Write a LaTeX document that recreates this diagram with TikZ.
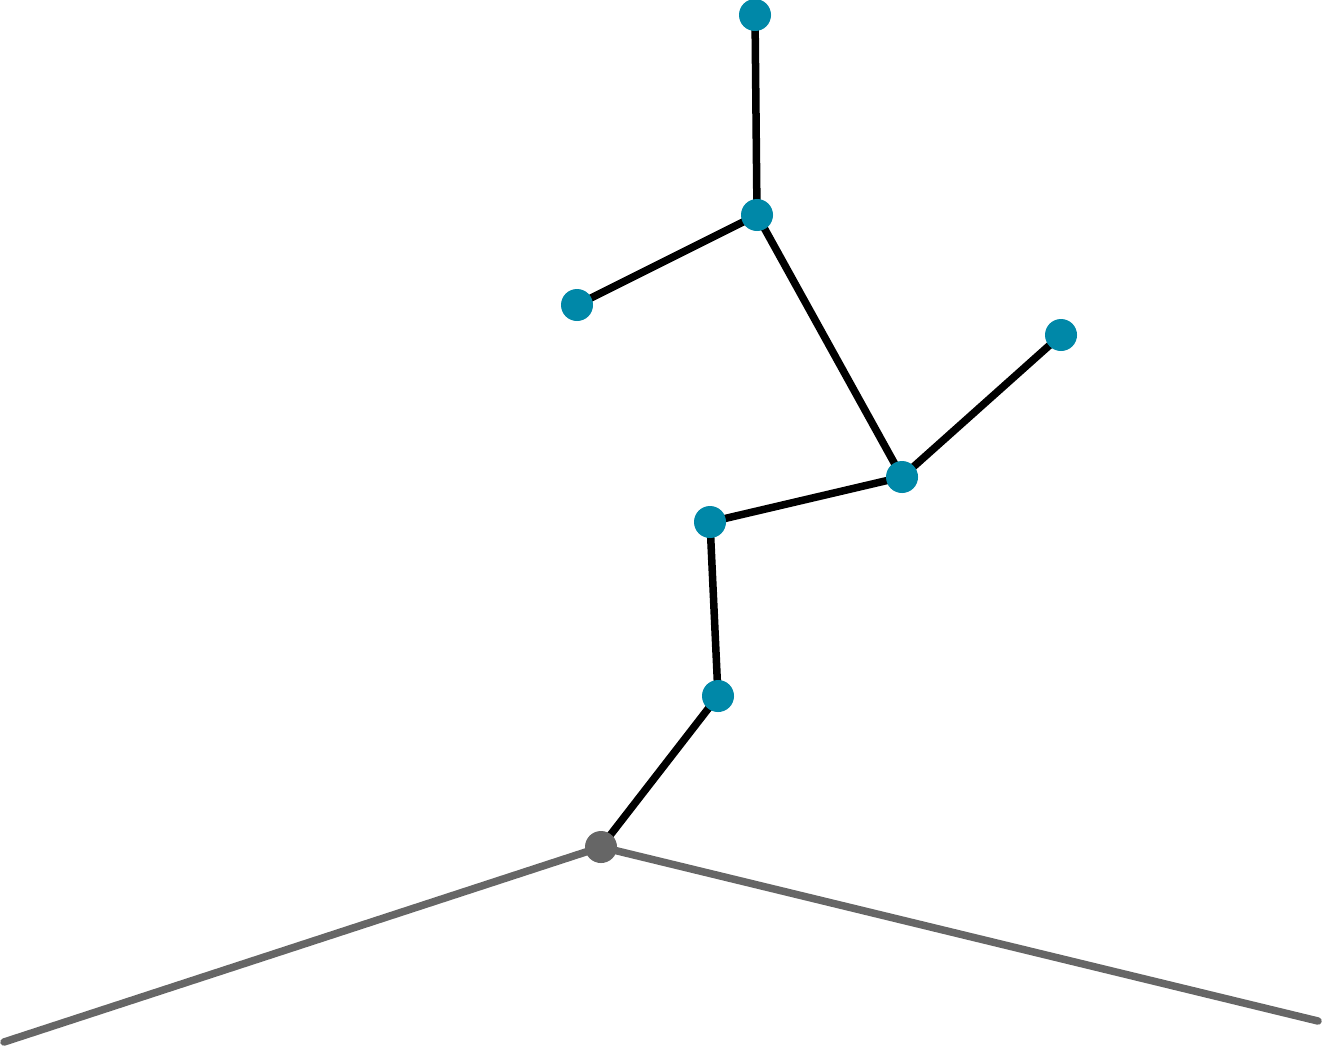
\documentclass[tikz,border=0pt]{standalone}
\pgfdeclarelayer{bg}
\pgfsetlayers{bg,main}
\begin{document}
\begin{tikzpicture}[x=0.01cm,y=-0.01cm,
  dot/.style={circle,fill=tealc,inner sep=0pt,minimum size=0.32cm},
  gdot/.style={circle,fill=grayc,inner sep=0pt,minimum size=0.32cm},
  edge/.style={line width=0.075cm,black,line cap=round},
  gedge/.style={line width=0.075cm,grayc,line cap=round}]
\definecolor{tealc}{HTML}{0088A8}
\definecolor{grayc}{HTML}{666666}
\useasboundingbox (0,0) rectangle (1322,1048);
\coordinate (L) at (4,1042);
\coordinate (R) at (1318,1021);
\node[dot] (A) at (755,15) {};
\node[dot] (B) at (757,215) {};
\node[dot] (C) at (577,305) {};
\node[dot] (D) at (1061,335) {};
\node[dot] (E) at (902,477) {};
\node[dot] (F) at (710,522) {};
\node[dot] (G) at (718,696) {};
\node[gdot] (H) at (601,847) {};
\begin{pgfonlayer}{bg}
\draw[edge] (A.center) -- (B.center);
\draw[edge] (B.center) -- (C.center);
\draw[edge] (B.center) -- (E.center);
\draw[edge] (E.center) -- (D.center);
\draw[edge] (E.center) -- (F.center);
\draw[edge] (F.center) -- (G.center);
\draw[edge] (G.center) -- (H.center);
\draw[gedge] (H.center) -- (L);
\draw[gedge] (H.center) -- (R);
\end{pgfonlayer}
\end{tikzpicture}
\end{document}
